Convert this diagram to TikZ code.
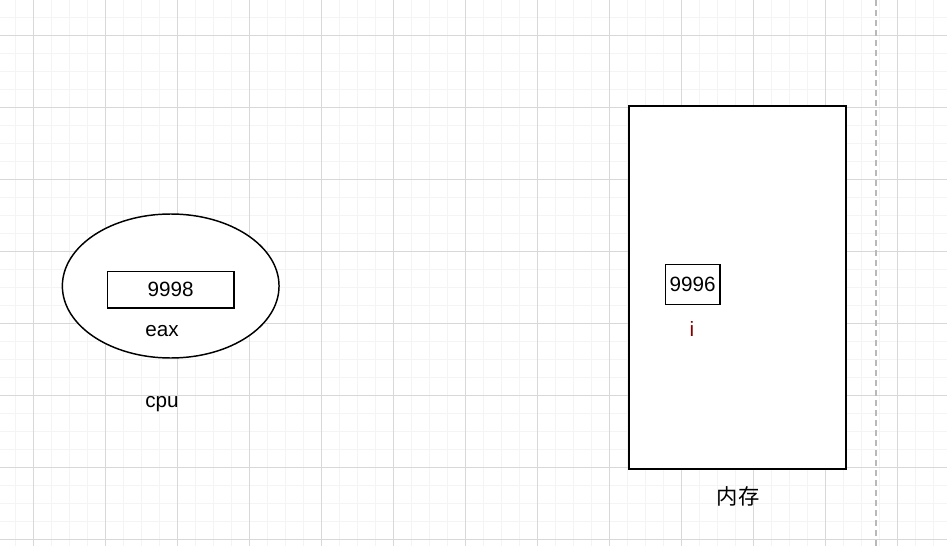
\documentclass[tikz,border=0pt]{standalone}
\usepackage{fontspec}
\setmainfont{Liberation Sans}
\newfontfamily\cjkfont{Noto Sans CJK SC}
\usetikzlibrary{positioning,shapes.geometric}
\definecolor{GridMinor}{RGB}{244,244,244}
\definecolor{GridMajor}{RGB}{216,216,216}
\definecolor{GuideGray}{RGB}{185,185,185}
\definecolor{VarRed}{RGB}{128,0,0}
\tikzset{
  part/.style={draw=black,line width=1.1pt,fill=white},
  cellbox/.style={draw=black,line width=1pt,inner sep=0pt,font=\fontsize{15.5}{18}\selectfont},
  tag/.style={inner sep=0pt,font=\fontsize{15.5}{18}\selectfont}
}
\begin{document}
\begin{tikzpicture}[x=0.75pt,y=-0.75pt]
  \useasboundingbox[fill=white] (0,0) rectangle (947,546);
  % grid
  \foreach \x in {15,33,...,947} \draw[GridMinor,line width=0.75pt] (\x,0) -- (\x,546);
  \foreach \y in {17,35,...,546} \draw[GridMinor,line width=0.75pt] (0,\y) -- (947,\y);
  \foreach \x in {33,105,...,947} \draw[GridMajor,line width=0.75pt] (\x,0) -- (\x,546);
  \foreach \y in {35,107,...,546} \draw[GridMajor,line width=0.75pt] (0,\y) -- (947,\y);
  \coordinate (guidetop) at (876,0);
  \coordinate (guidebot) at (876,546);
  \draw[GuideGray,line width=0.9pt,dash pattern=on 4.5pt off 3pt] (guidetop) -- (guidebot);

  % cpu
  \node[part,ellipse,minimum width=162.5pt,minimum height=108pt] (cpu) at (170.7,286) {};
  \node[cellbox,minimum width=95pt,minimum height=27.5pt] (eax) at (170.7,289.7) {9998};
  \node[tag] (eaxlabel) at (162,331) {eax};
  \node[tag] (cpulabel) at (162,404) {cpu};

  % memory
  \node[part,rectangle,minimum width=162.75pt,minimum height=272.25pt] (mem) at (737.5,287.5) {};
  \node[cellbox,minimum width=41pt,minimum height=30pt] (var) at (692.7,284.7) {9996};
  \node[tag,text=VarRed] (varlabel) at (692,329) {i};
  \node[tag,font=\cjkfont\fontsize{16}{19}\selectfont] (memlabel) at (738,496) {内存};
\end{tikzpicture}
\end{document}
